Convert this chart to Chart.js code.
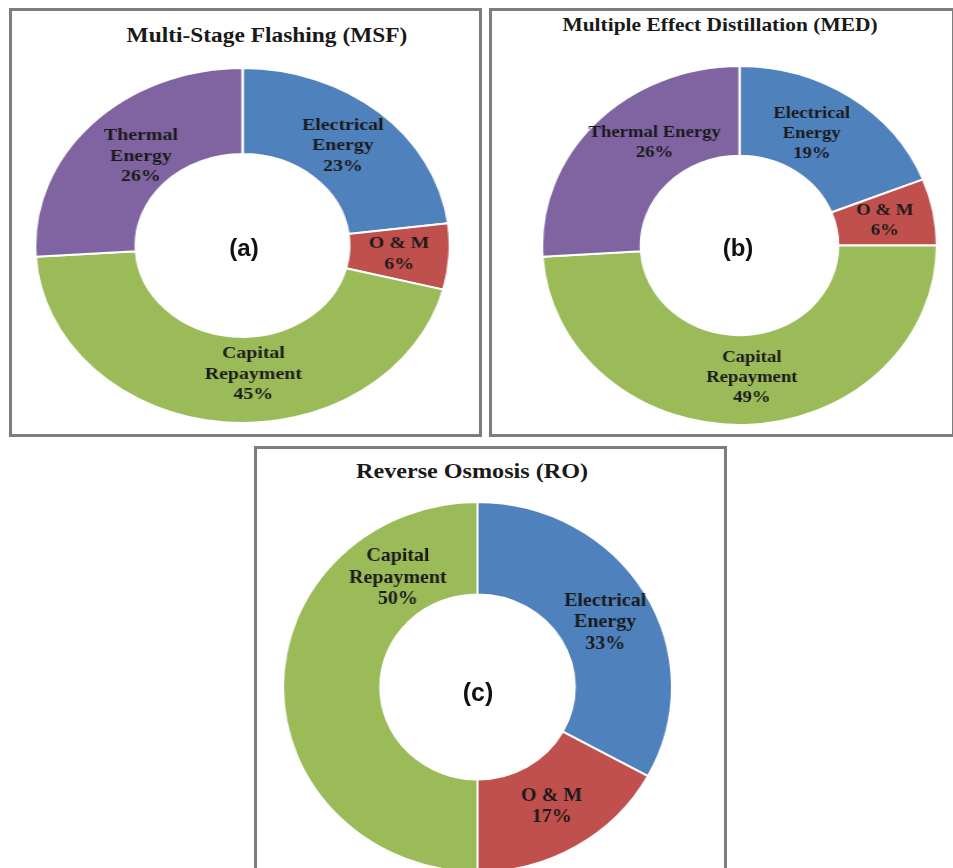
<!DOCTYPE html>
<html>
<head>
<meta charset="utf-8">
<script src="https://cdn.jsdelivr.net/npm/chart.js@4.4.1/dist/chart.umd.min.js"></script>
<style>
  html, body { margin: 0; padding: 0; background: #fff; }
  body { width: 953px; height: 868px; position: relative; overflow: hidden; }
  .panel { position: absolute; box-sizing: border-box; border: 3px solid #7d7d7d; background: #fff; }
  .title, .tag { position: absolute; white-space: nowrap; line-height: 1; color: #1a1a1a; }
  .title { font-family: "Liberation Serif", "Times New Roman", serif; font-weight: bold; }
  .tag { font-family: "Liberation Sans", Arial, sans-serif; font-weight: bold; font-size: 24px; color: #111; transform: translate(-50%, -50%); }
  canvas { position: absolute; }
</style>
</head>
<body>
<div class="panel" style="left:9px;top:8px;width:473px;height:429px"></div>
<div class="panel" style="left:489px;top:8px;width:466px;height:429px"></div>
<div class="panel" style="left:254px;top:446px;width:473px;height:440px"></div>

<div class="title" style="left:267px;top:35px;font-size:20px;transform:translate(-50%,-50%) scaleX(1.17)">Multi-Stage Flashing (MSF)</div>
<div class="title" style="left:720px;top:25px;font-size:19.5px;transform:translate(-50%,-50%) scaleX(1.1)">Multiple Effect Distillation (MED)</div>
<div class="title" style="left:472px;top:471px;font-size:21px;transform:translate(-50%,-50%) scaleX(1.15)">Reverse Osmosis (RO)</div>

<canvas id="chartA"></canvas>
<canvas id="chartB"></canvas>
<canvas id="chartC"></canvas>

<div class="tag" style="left:244px;top:248px">(a)</div>
<div class="tag" style="left:738px;top:248px">(b)</div>
<div class="tag" style="left:478px;top:692px;font-size:25px">(c)</div>

<script>
const categories = ["Electrical Energy", "O & M", "Capital Repayment", "Thermal Energy"];
const msfValues = [23, 6, 45, 26];
const medValues = [19, 6, 49, 26];
const roCategories = ["Electrical Energy", "O & M", "Capital Repayment"];
const roValues = [33, 17, 50];

const colors = {
  "Electrical Energy": "#4F81BD",
  "O & M": "#C0504D",
  "Capital Repayment": "#9BBB59",
  "Thermal Energy": "#8064A2"
};

// how each label wraps inside its slice
const linesA = [["Electrical", "Energy"], ["O & M"], ["Capital", "Repayment"], ["Thermal", "Energy"]];
const linesB = [["Electrical", "Energy"], ["O & M"], ["Capital", "Repayment"], ["Thermal Energy"]];
const linesC = [["Electrical", "Energy"], ["O & M"], ["Capital", "Repayment"]];

const sliceLabels = {
  id: "sliceLabels",
  afterDatasetsDraw(chart, args, opts) {
    const ctx = chart.ctx;
    const meta = chart.getDatasetMeta(0);
    const values = chart.data.datasets[0].data;
    ctx.save();
    ctx.font = "bold " + opts.size + "px 'Liberation Serif', 'Times New Roman', serif";
    ctx.fillStyle = "#1a1a1a";
    ctx.textAlign = "center";
    ctx.textBaseline = "middle";
    meta.data.forEach((arc, i) => {
      const p = arc.getCenterPoint();
      const nudge = opts.nudge[i] || [0, 0];
      const lines = opts.lines[i].concat([values[i] + "%"]);
      const x = p.x + nudge[0];
      const y0 = p.y + nudge[1] - (lines.length - 1) * opts.lineHeight / 2;
      lines.forEach((t, k) => ctx.fillText(t, x, y0 + k * opts.lineHeight));
    });
    ctx.restore();
  }
};

function makeDonut(id, labels, values, lines, geo) {
  const canvas = document.getElementById(id);
  const size = Math.round(geo.r * 2 + 2);
  canvas.width = size;
  canvas.height = size;
  canvas.style.width = (size * geo.sx) + "px";
  canvas.style.height = size + "px";
  canvas.style.left = (geo.cx - size * geo.sx / 2) + "px";
  canvas.style.top = (geo.cy - size / 2) + "px";

  return new Chart(canvas.getContext("2d"), {
    type: "doughnut",
    data: {
      labels: labels,
      datasets: [{
        data: values,
        backgroundColor: labels.map(l => colors[l]),
        borderColor: "#ffffff",
        borderWidth: 2
      }]
    },
    options: {
      responsive: false,
      animation: false,
      cutout: geo.cutout,
      layout: { padding: 0 },
      plugins: {
        legend: { display: false },
        tooltip: { enabled: false },
        sliceLabels: { lines: lines, size: geo.font, lineHeight: geo.lineHeight, nudge: geo.nudge }
      }
    },
    plugins: [sliceLabels]
  });
}

makeDonut("chartA", categories, msfValues, linesA, {
  cx: 242.5, cy: 245.5, r: 177.5, sx: 1.169, cutout: "51.5%", font: 17, lineHeight: 20.5,
  nudge: [[-3, 1], [0, 0], [22, -5], [11, 3]]
});
makeDonut("chartB", categories, medValues, linesB, {
  cx: 739.5, cy: 245.5, r: 179.5, sx: 1.10, cutout: "50%", font: 17, lineHeight: 20,
  nudge: [[-10, -1], [0, 0], [7, -2], [21, -11]]
});
makeDonut("chartC", roCategories, roValues, linesC, {
  cx: 477.5, cy: 687, r: 185, sx: 1.051, cutout: "50%", font: 19, lineHeight: 21.5,
  nudge: [[2, 6], [0, 0], [63, -109]]
});
</script>
</body>
</html>
